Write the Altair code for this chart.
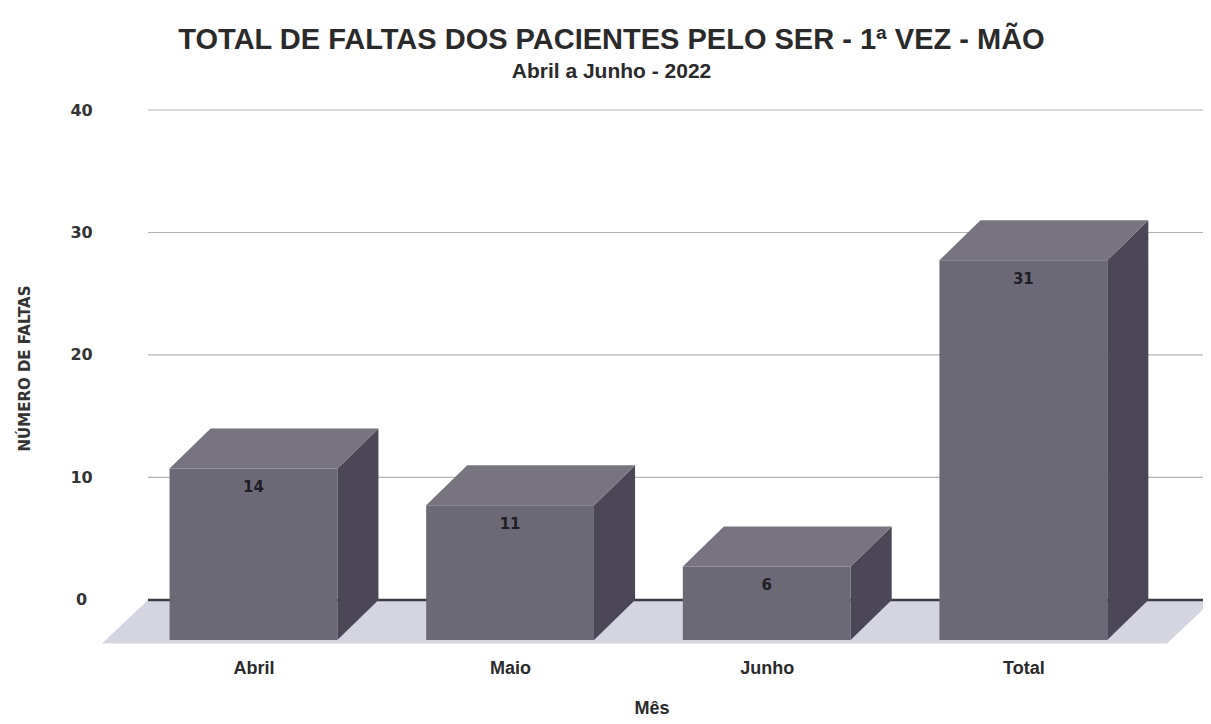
import altair as alt
import pandas as pd

# ---- data ----
meses = ["Abril", "Maio", "Junho", "Total"]
faltas = [14, 11, 6, 31]
y_ticks = [0, 10, 20, 30, 40]
grid_vals = [10, 20, 30, 40]

# ---- 3D styling constants (in scale units) ----
HW = 0.327      # half bar width
DXU = 0.16      # bar depth along x
DYU = 3.27      # bar depth along y
FL, FR = -0.59, 3.56   # floor front-left / front-right
FDX, FDY = 0.179, 3.55  # floor depth
XDOM = [-0.598, 3.70]
YDOM = [-3.6, 40]

front = pd.DataFrame({
    "mes": meses,
    "x": [i - HW for i in range(len(meses))],
    "x2": [i + HW for i in range(len(meses))],
    "y": [-DYU] * len(meses),
    "y2": [v - DYU for v in faltas],
    "xc": list(range(len(meses))),
    "ytop": [v - DYU for v in faltas],
    "valor": faltas,
})

top_rows, side_rows = [], []
for i, (m, v) in enumerate(zip(meses, faltas)):
    xs_ = [i - HW, i - HW + DXU, i + HW, i + HW + DXU]
    ys_ = [v - DYU, v, v, v]
    y2s = [v - DYU, v - DYU, v - DYU, v]
    for a, b, c in zip(xs_, ys_, y2s):
        top_rows.append({"mes": m, "x": a, "y": b, "y2": c})
    for a, b, c in zip([i + HW, i + HW + DXU], [v - DYU, v], [-DYU, 0]):
        side_rows.append({"mes": m, "x": a, "y": b, "y2": c})
top = pd.DataFrame(top_rows)
side = pd.DataFrame(side_rows)

floor = pd.DataFrame({
    "x": [FL, FL + FDX, FR, FR + FDX],
    "y": [-FDY, 0, 0, 0],
    "y2": [-FDY, -FDY, -FDY, 0],
})

grid = pd.DataFrame({"y": grid_vals, "x": [FL + FDX] * len(grid_vals),
                     "x2": [XDOM[1]] * len(grid_vals)})
zero = pd.DataFrame({"y": [0], "x": [FL + FDX], "x2": [XDOM[1]]})

xs = alt.Scale(domain=XDOM, nice=False, zero=False)
ys = alt.Scale(domain=YDOM, nice=False, zero=False)

label_expr = "[" + ",".join("'" + m + "'" for m in meses) + "][datum.value]"

x_axis = alt.Axis(values=list(range(len(meses))), labelExpr=label_expr, title="Mês",
                  grid=False, domain=False, ticks=False, tickSize=0,
                  labelPadding=15, labelFont="Liberation Sans", labelFontWeight="bold",
                  labelFontSize=18, labelColor="#2a2a2a",
                  titleFont="Liberation Sans", titleFontWeight="bold", titleFontSize=18,
                  titleColor="#2a2a2a", titleY=69, titleBaseline="alphabetic")
y_axis = alt.Axis(values=y_ticks, title="NÚMERO DE FALTAS", grid=False, domain=False,
                  ticks=False, tickSize=0, labelAlign="center", labelBaseline="middle",
                  labelPadding=19, labelFont="DejaVu Sans", labelFontWeight="bold",
                  labelFontSize=16, labelColor="#333333",
                  titleFont="DejaVu Sans", titleFontWeight="bold", titleFontSize=15,
                  titleColor="#333333", titleX=-68, titleY=258, titleAngle=270)


def X(field):
    return alt.X(field, scale=xs, axis=x_axis, title="Mês")


def Y(field):
    return alt.Y(field, scale=ys, axis=y_axis, title="NÚMERO DE FALTAS")


grid_layer = alt.Chart(grid).mark_rule(color="#b4b4b4", strokeWidth=1.2).encode(
    x=X("x:Q"), x2="x2:Q", y=Y("y:Q"),
)

floor_layer = alt.Chart(floor).mark_area(color="#d5d5e2", clip=True).encode(
    x=X("x:Q"), y=Y("y:Q"), y2="y2:Q",
)

zero_layer = alt.Chart(zero).mark_rule(color="#3c3c44", strokeWidth=2.5, clip=True).encode(
    x=X("x:Q"), x2="x2:Q", y=Y("y:Q"),
)

side_layer = alt.Chart(side).mark_area(color="#4c4757").encode(
    x=X("x:Q"), y=Y("y:Q"), y2="y2:Q", detail="mes:N",
)

top_layer = alt.Chart(top).mark_area(color="#77747f").encode(
    x=X("x:Q"), y=Y("y:Q"), y2="y2:Q", detail="mes:N",
)

front_layer = alt.Chart(front).mark_rect(color="#6c6977").encode(
    x=X("x:Q"), x2="x2:Q", y=Y("y:Q"), y2="y2:Q",
)

text_layer = alt.Chart(front).mark_text(font="DejaVu Sans", fontWeight="bold", fontSize=15,
                                        color="#1e1e24", baseline="middle", dy=19).encode(
    x=X("xc:Q"), y=Y("ytop:Q"), text="valor:Q",
)

chart = alt.layer(grid_layer, floor_layer, zero_layer, side_layer, top_layer,
                  front_layer, text_layer).properties(
    width=1103, height=534,
    padding={"left": 92, "top": 102, "right": 0, "bottom": 72},
    autosize=alt.AutoSizeParams(type="none"),
    background="white",
    title=alt.TitleParams(
        text="TOTAL DE FALTAS DOS PACIENTES PELO SER  - 1ª VEZ - MÃO",
        subtitle="Abril a Junho - 2022",
        font="Liberation Sans", fontWeight="bold", fontSize=29, color="#2a2a2a",
        subtitleFont="Liberation Sans", subtitleFontWeight="bold", subtitleFontSize=21,
        subtitleColor="#2a2a2a", subtitlePadding=6,
        anchor="middle", dx=-40, offset=20,
    ),
).configure_view(strokeWidth=0, stroke="transparent")

chart.save("out.html", embed_options={"renderer": "svg", "actions": False})
